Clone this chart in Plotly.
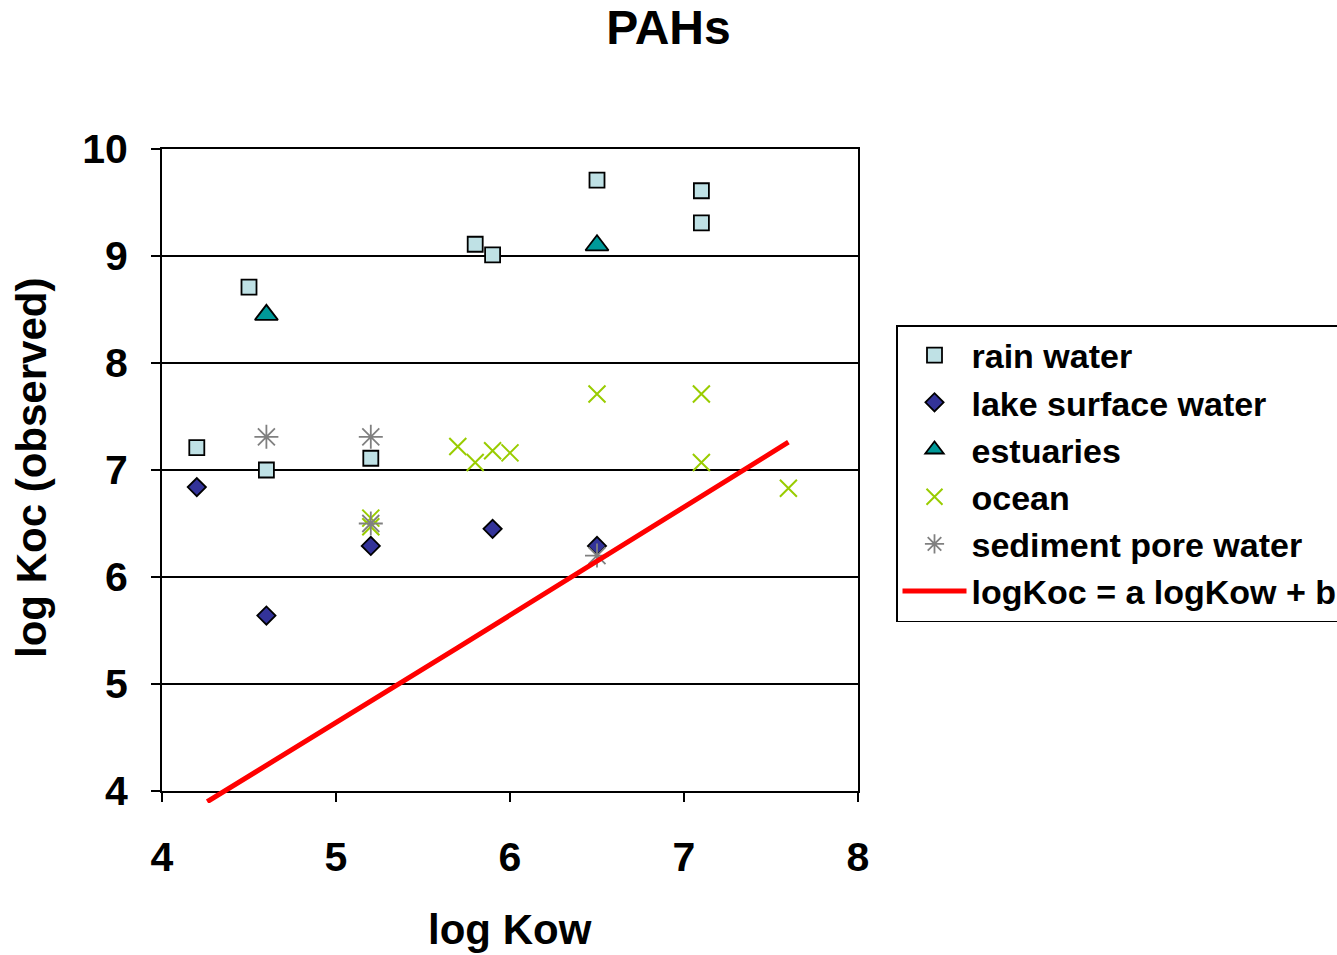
import plotly.graph_objects as go

# ---- data ----
rain_x = [4.2, 4.5, 4.6, 5.2, 5.8, 5.9, 6.5, 7.1, 7.1]
rain_y = [7.21, 8.71, 7.00, 7.11, 9.11, 9.01, 9.71, 9.61, 9.31]

lake_x = [4.2, 4.6, 5.2, 5.9, 6.5]
lake_y = [6.84, 5.64, 6.29, 6.45, 6.29]

estuary_x = [4.6, 6.5]
estuary_y = [8.45, 9.10]

ocean_x = [5.2, 5.2, 5.7, 5.8, 5.9, 6.0, 6.5, 7.1, 7.1, 7.6]
ocean_y = [6.55, 6.47, 7.22, 7.07, 7.18, 7.16, 7.71, 7.71, 7.07, 6.83]

sediment_x = [4.6, 5.2, 5.2, 6.5]
sediment_y = [7.31, 7.31, 6.50, 6.20]

fit_x = [4.26, 5.70, 7.60]
fit_y = [3.90, 5.34, 7.26]

x_ticks = [4, 5, 6, 7, 8]
y_ticks = [4, 5, 6, 7, 8, 9, 10]

FONT = "Liberation Sans, Arial, sans-serif"
W, H = 1337, 955
M_L, M_R, M_T, M_B = 162, 1337 - 858, 149, 152
PLOT_H = H - M_T - M_B  # 654
EXTRA = 12  # px the fit line may run below the x axis

fig = go.Figure()

fig.add_trace(go.Scatter(
    x=rain_x, y=rain_y, mode="markers", name="rain water",
    legendgroup="a",
    marker=dict(symbol="square", size=15, color="#BFE1E5",
                line=dict(color="#000000", width=1.8))))
fig.add_trace(go.Scatter(
    x=lake_x, y=lake_y, mode="markers", name="lake surface water",
    legendgroup="b",
    marker=dict(symbol="diamond", size=14, color="#333399",
                line=dict(color="#000000", width=1.8))))
fig.add_trace(go.Scatter(
    x=estuary_x, y=estuary_y, mode="markers", name="estuaries",
    legendgroup="c",
    marker=dict(symbol="triangle-up", size=20, color="#009999",
                line=dict(color="#000000", width=1.8))))
fig.add_trace(go.Scatter(
    x=ocean_x, y=ocean_y, mode="markers", name="ocean",
    legendgroup="d",
    marker=dict(symbol="x-thin-open", size=17, color="#99CC00",
                line=dict(color="#99CC00", width=2))))
fig.add_trace(go.Scatter(
    x=sediment_x, y=sediment_y, mode="markers", name="sediment pore water",
    legendgroup="e",
    marker=dict(symbol="asterisk-open", size=20, color="#808080",
                line=dict(color="#808080", width=1.8))))
fig.add_trace(go.Scatter(
    x=fit_x, y=fit_y, mode="lines", name="logKoc = a logKow + b",
    legendgroup="f", xaxis="x", yaxis="y2",
    line=dict(color="#FF0000", width=5)))

y_lo = 4 - EXTRA / 107.0

fig.update_layout(
    width=W, height=H,
    margin=dict(l=M_L, r=M_R, t=M_T, b=M_B, pad=0, autoexpand=False),
    paper_bgcolor="white", plot_bgcolor="rgba(0,0,0,0)",
    font=dict(family=FONT, color="black"),
    title=dict(text="PAHs", x=0.5, xref="container", xanchor="center",
               y=1 - 27 / H, yref="container", yanchor="middle",
               font=dict(size=48, family=FONT, weight="bold", color="black")),
    xaxis=dict(range=[4, 8], tickvals=x_ticks, ticks="outside", ticklen=9,
               tickwidth=1.5, tickcolor="black", showgrid=False, zeroline=False,
               showline=True, linecolor="black", linewidth=2, mirror=True,
               anchor="y", ticklabelstandoff=20,
               tickfont=dict(size=41, family=FONT, weight="bold", color="black")),
    yaxis=dict(range=[4, 10], tickvals=y_ticks, ticks="outside", ticklen=9,
               tickwidth=1.5, tickcolor="black", showgrid=True,
               gridcolor="black", gridwidth=1.5, zeroline=False,
               showline=True, linecolor="black", linewidth=2, mirror=True,
               domain=[EXTRA / PLOT_H, 1], anchor="x", ticklabelstandoff=15,
               tickfont=dict(size=41, family=FONT, weight="bold", color="black")),
    yaxis2=dict(range=[y_lo, 10], domain=[0, 1], anchor="x", visible=False,
                showgrid=False, zeroline=False),
    legend=dict(x=(896 - M_L) / 696, xanchor="left",
                y=(H - M_B - 325) / PLOT_H, yanchor="top",
                bgcolor="white", bordercolor="black", borderwidth=1.5,
                tracegroupgap=0, itemwidth=64,
                font=dict(size=34, family=FONT, weight="bold", color="black")),
    showlegend=True,
    annotations=[
        dict(text="log Kow", xref="paper", yref="paper", x=0.5,
             y=(H - M_B - 930) / PLOT_H, xanchor="center", yanchor="middle",
             showarrow=False,
             font=dict(size=42, family=FONT, weight="bold", color="black")),
        dict(text="log Koc (observed)", xref="paper", yref="paper",
             x=(31 - M_L) / 696, y=(H - M_B - 468) / PLOT_H,
             xanchor="center", yanchor="middle", textangle=-90,
             showarrow=False,
             font=dict(size=42, family=FONT, weight="bold", color="black")),
    ],
)

fig.write_html(
    "out.html",
    config={"displayModeBar": False},
    post_script="document.body.style.margin='0';document.body.style.overflow='hidden';",
)
